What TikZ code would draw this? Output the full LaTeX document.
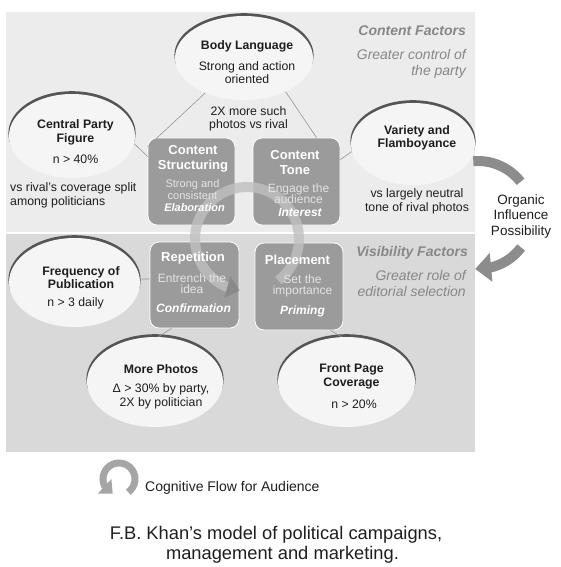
\documentclass[tikz,border=0pt]{standalone}
\usepackage{fontspec}
\setmainfont{Liberation Sans}
\usetikzlibrary{arrows.meta,bending,shapes.geometric}
\definecolor{toppanel}{RGB}{236,236,237}
\definecolor{botpanel}{RGB}{217,217,218}
\definecolor{ellfill}{RGB}{245,245,245}
\definecolor{ellrim}{RGB}{85,85,85}
\definecolor{boxfill}{RGB}{155,155,155}
\definecolor{boxsub}{RGB}{228,228,228}
\definecolor{facgray}{RGB}{135,135,135}
\definecolor{txt}{RGB}{30,30,30}
\definecolor{conn}{RGB}{150,150,150}
\definecolor{orgarrow}{RGB}{140,140,140}
\definecolor{cycband}{RGB}{192,192,192}
\definecolor{cychead}{RGB}{135,135,135}
\definecolor{legarrow}{RGB}{165,165,165}
\newcommand\KhEll[5]{%
  \fill[ellrim] (#2,-#3+2.8) ellipse[x radius=#4pt+0.6pt, y radius=#5pt];
  \node[ellnode, minimum width=#4pt*2, minimum height=#5pt*2] (#1) at (#2,-#3) {};}
\begin{document}
\begin{tikzpicture}[x=1pt,y=1pt,
  ellnode/.style={ellipse, fill=ellfill, inner sep=0pt},
  kbox/.style={rectangle, rounded corners=9pt, fill=boxfill, draw=white, line width=0.8pt, inner sep=0pt},
  etitle/.style={font=\fontsize{12.3}{13.5}\selectfont\bfseries, text=txt, align=center, inner sep=0pt},
  etext/.style={font=\fontsize{12.3}{13.5}\selectfont, text=txt, align=center, inner sep=0pt},
  btitle/.style={font=\fontsize{13}{15}\selectfont\bfseries, text=white, align=center, inner sep=0pt},
  bsub/.style={font=\fontsize{12}{11.5}\selectfont, text=boxsub, align=center, inner sep=0pt},
  bkey/.style={font=\fontsize{12}{14}\selectfont\bfseries\itshape, text=white, inner sep=0pt},
  fhead/.style={font=\fontsize{14}{16}\selectfont\bfseries\itshape, text=facgray, anchor=east, inner sep=0pt},
  fsub/.style={font=\fontsize{14}{16.5}\selectfont\itshape, text=facgray, align=right, anchor=east, inner sep=0pt},
  connline/.style={draw=conn, line width=0.6pt},
]
\useasboundingbox (0,0) rectangle (560,-567);
% panels
\fill[toppanel] (6,-12) rectangle (475,-231.5);
\fill[botpanel] (6,-234) rectangle (475,-452);
% organic influence arrows
\draw[orgarrow, line width=10pt] (478,-215) ++(95:54pt) arc[start angle=95, end angle=38, radius=54pt];
\draw[orgarrow, line width=10pt, -{Triangle[width=28pt,length=16pt]}] (478,-215) ++(-37:54pt) arc[start angle=-37, end angle=-93, radius=54pt];
% ellipses
\KhEll{body}{244}{58}{69}{42}
\KhEll{central}{72}{136}{63}{42}
\KhEll{variety}{413}{144}{62}{41}
\KhEll{freq}{74.5}{282.5}{65.5}{44.5}
\KhEll{more}{155}{382}{68}{45}
\KhEll{front}{346.5}{382}{68.5}{45}
% boxes
\node[kbox, minimum width=87pt, minimum height=87pt] (cs) at (191.5,-181.5) {};
\node[kbox, minimum width=87pt, minimum height=87pt] (ct) at (296.5,-181.5) {};
\node[kbox, minimum width=89pt, minimum height=86pt] (rep) at (194.5,-285) {};
\node[kbox, minimum width=88pt, minimum height=87pt] (pl) at (299,-286.5) {};
% connectors
\draw[connline] (body.222) -- ([yshift=-9pt]cs.north west);
\draw[connline] (body.-39) -- ([xshift=20pt]ct.north);
\draw[connline] (central.-7) -- ([yshift=-19pt]cs.north west);
\draw[connline] (variety.187) -- ([yshift=-22pt]ct.north east);
\draw[connline] (freq.3) -- ([yshift=6pt]rep.west);
\draw[connline] (more.86) -- ([xshift=22pt]rep.south west);
\draw[connline] (front.96) -- ([xshift=-13pt]pl.south east);
% cognitive cycle
\draw[cycband, line width=10pt, opacity=0.8, -{Triangle[width=22pt,length=13pt,color=cychead,fill=cychead]}] (247,-239) ++(-53:52pt) arc[start angle=-53, end angle=262, radius=52pt];
% ellipse texts
\node[etitle] (tbody) at (247,-46) {Body Language};
\node[etext] (sbody) at (247,-72.5) {Strong and action\\oriented};
\node[etext] (t2x) at (248.5,-119) {2X more such\\photos vs rival};
\node[etitle] (tcentral) at (75.5,-132.5) {Central Party\\Figure};
\node[etext] (scentral) at (75.5,-159.5) {n > 40\%};
\node[etext, align=left, anchor=west] (tvsrival) at (10,-195.5) {vs rival’s coverage split\\among politicians};
\node[etitle] (tvariety) at (417,-138) {Variety and\\Flamboyance};
\node[etext] (svariety) at (417,-201.5) {vs largely neutral\\tone of rival photos};
\node[etitle] (tfreq) at (81,-277.5) {Frequency of\\Publication};
\node[etext] (sfreq) at (75.5,-303.5) {n > 3 daily};
\node[etitle] (tmore) at (161,-369.5) {More Photos};
\node[etext] (smore) at (161,-396.5) {Δ > 30\% by party,\\2X by politician};
\node[etitle] (tfront) at (351.5,-376.5) {Front Page\\Coverage};
\node[etext] (sfront) at (354,-404.5) {n > 20\%};
% box texts
\node[btitle] (tcs) at (193,-159) {Content\\Structuring};
\node[bsub, font=\fontsize{11}{10}\selectfont] (scs) at (192.5,-189.5) {Strong and\\consistent};
\node[bkey, font=\fontsize{11}{13}\selectfont\bfseries\itshape] (kcs) at (194.5,-208) {Elaboration};
\node[btitle] (tct) at (295,-162.5) {Content\\Tone};
\node[bsub] (sct) at (298.5,-193.5) {Engage the\\audience};
\node[bkey] (kct) at (300,-212.5) {Interest};
\node[btitle] (trep) at (193,-258) {Repetition};
\node[bsub] (srep) at (192,-283.5) {Entrench the\\idea};
\node[bkey] (krep) at (193.5,-308.5) {Confirmation};
\node[btitle] (tpl) at (297.5,-260) {Placement};
\node[bsub] (spl) at (302.5,-286) {Set the\\importance};
\node[bkey] (kpl) at (302.5,-311.5) {Priming};
% factor labels
\node[fhead] (hcontent) at (466,-31) {Content Factors};
\node[fsub] (scontent) at (466,-64) {Greater control of\\the party};
\node[fhead] (hvis) at (468,-253) {Visibility Factors};
\node[fsub] (svis) at (466,-283.5) {Greater role of\\editorial selection};
% organic text
\node[font=\fontsize{13.5}{15.5}\selectfont, text=txt, align=center, inner sep=0pt] (organic) at (521,-216.5) {Organic\\Influence\\Possibility};
% legend
\draw[legarrow, line width=7pt, -{Triangle[width=19pt,length=11pt]}] (119,-479) ++(-55:16pt) arc[start angle=-55, end angle=247, radius=16pt];
\node[font=\fontsize{14}{16}\selectfont, text=txt, anchor=west, inner sep=0pt] (legtext) at (145,-488) {Cognitive Flow for Audience};
% caption
\node[font=\fontsize{18.3}{19}\selectfont, text=txt, anchor=base, inner sep=0pt] (cap1) at (276,-539.5) {F.B. Khan’s model of political campaigns,};
\node[font=\fontsize{18.3}{19}\selectfont, text=txt, anchor=base, inner sep=0pt] (cap2) at (282.5,-559) {management and marketing.};
\end{tikzpicture}
\end{document}
